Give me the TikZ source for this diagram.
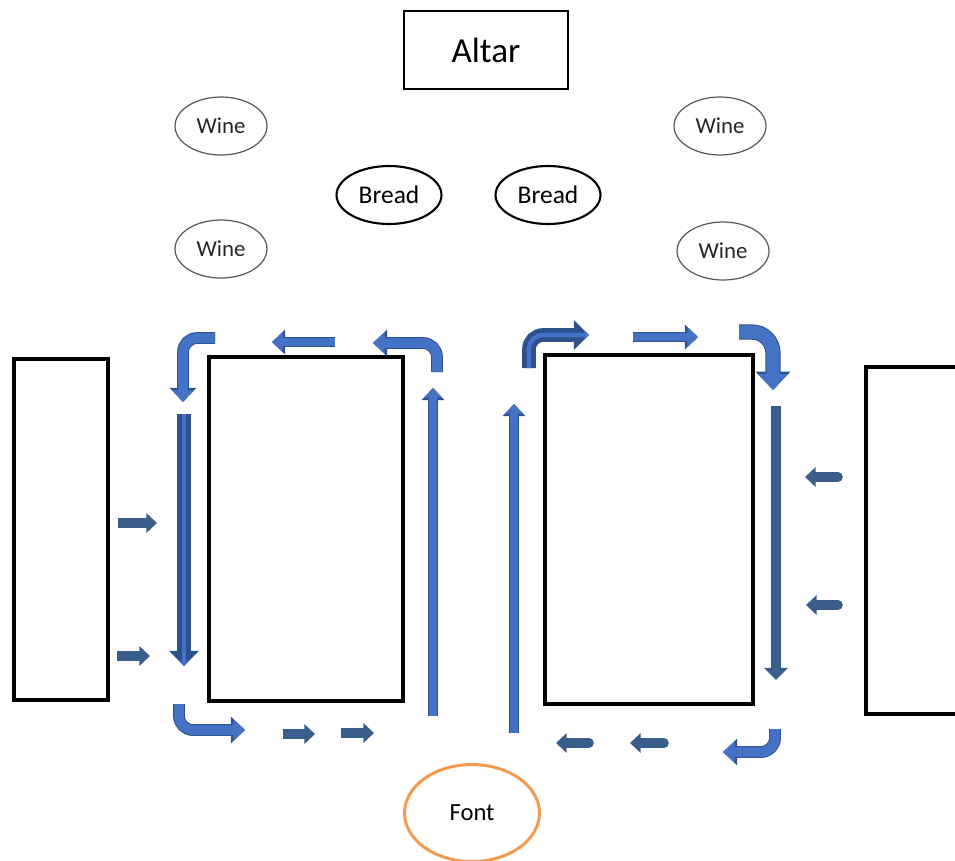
\documentclass[tikz,border=0pt]{standalone}
\usepackage{fontspec}
\setmainfont{Carlito}
\usepackage{tikz}
\usetikzlibrary{arrows.meta}
\usetikzlibrary{shapes.geometric}

\definecolor{flowblue}{HTML}{4472C4}
\definecolor{flowedge}{HTML}{2F528F}
\definecolor{flowdark}{HTML}{3A5E8C}
\definecolor{fontorange}{HTML}{F29A4F}

\begin{document}
\begin{tikzpicture}[x=0.02cm, y=-0.02cm,
    pew/.style={rectangle, draw=black, line width=2.5pt, inner sep=0pt},
    wine/.style={ellipse, draw=black!65, line width=0.7pt, minimum width=1.84cm, minimum height=1.16cm, inner sep=0pt, text=black!85, font=\fontsize{13}{15}\selectfont},
    bread/.style={ellipse, draw=black, line width=1.2pt, minimum width=2.1cm, minimum height=1.16cm, inner sep=0pt, font=\fontsize{14.5}{17}\selectfont},
    flow/.style={draw=flowblue, line width=#1, -{Triangle[length=0pt 1.2, width=0pt 2.2]}, preaction={draw=flowedge, line width=#1+1.2pt}},
    flow/.default=5pt,
    ribbon/.style={draw=flowblue, line width=2.4pt, -{Triangle[length=0pt 1.1, width=0pt 2.1]}, preaction={draw=flowedge, line width=7.8pt}},
    stub/.style={draw=flowdark, line width=#1, -{Triangle[length=0pt 1.1, width=0pt 2]}},
    stub/.default=5.5pt,
    stubr/.style={stub, line cap=round}]
    \useasboundingbox (0,0) rectangle (955,860);

    \node [rectangle, draw=black, line width=0.6pt, minimum width=3.28cm, minimum height=1.56cm, font=\fontsize{20}{24}\selectfont] (altar) at (486,50) {Altar};

    \node [wine] (wineNW) at (221,126) {Wine};
    \node [wine] (wineSW) at (221,249) {Wine};
    \node [wine] (wineNE) at (720,126) {Wine};
    \node [wine] (wineSE) at (723,251) {Wine};
    \node [bread] (breadL) at (389,195) {Bread};
    \node [bread] (breadR) at (548,195) {Bread};

    \node [pew, minimum width=1.88cm, minimum height=6.82cm] (pewA) at (61,529.5) {};
    \node [pew, minimum width=3.88cm, minimum height=6.88cm] (pewB) at (306,529) {};
    \node [pew, minimum width=4.16cm, minimum height=6.98cm] (pewC) at (649,529.5) {};
    \node [pew, minimum width=1.88cm, minimum height=6.94cm] (pewD) at (913,540.5) {};

    \node [ellipse, draw=fontorange, line width=1.7pt, minimum width=2.7cm, minimum height=1.94cm, font=\fontsize{14}{17}\selectfont] (font) at (472,813) {Font};

    % left aisle
    \draw [flow=5.5pt, rounded corners=8pt] (215,338) -- (183,338) -- (183,402);
    \draw [flow] (335,342) -- (272,342);
    \draw [flow=5.5pt, rounded corners=8pt] (437,372) -- (437,343) -- (373,343);
    \draw [flow=4.5pt] (433,716) -- (433,388);
    \draw [ribbon] (184,414) -- (184,666);
    \draw [stub] (118,523) -- (157,523);
    \draw [stub] (117,656) -- (150,656);
    \draw [flow=5.5pt, rounded corners=8pt] (179,704) -- (179,730) -- (245,730);
    \draw [stub] (283,734) -- (315,734);
    \draw [stub] (341,733) -- (374,733);

    % right aisle
    \draw [flow=4.5pt] (514,733) -- (514,404);
    \draw [ribbon, rounded corners=8pt] (529,368) -- (529,335) -- (589,335);
    \draw [flow] (633,337) -- (698,337);
    \draw [flow=7.5pt, rounded corners=12pt] (739,332) -- (773,332) -- (773,390);
    \draw [stub=5.5pt, -{Triangle[length=0pt 1.25, width=0pt 2.4]}] (776,406) -- (776,680);
    \draw [stubr] (838,477) -- (805,477);
    \draw [stubr] (838,605) -- (806,605);
    \draw [flow=5.5pt, rounded corners=8pt] (775,729) -- (775,752) -- (723,752);
    \draw [stubr] (664,743) -- (630,743);
    \draw [stubr] (589,743) -- (556,743);
\end{tikzpicture}
\end{document}
